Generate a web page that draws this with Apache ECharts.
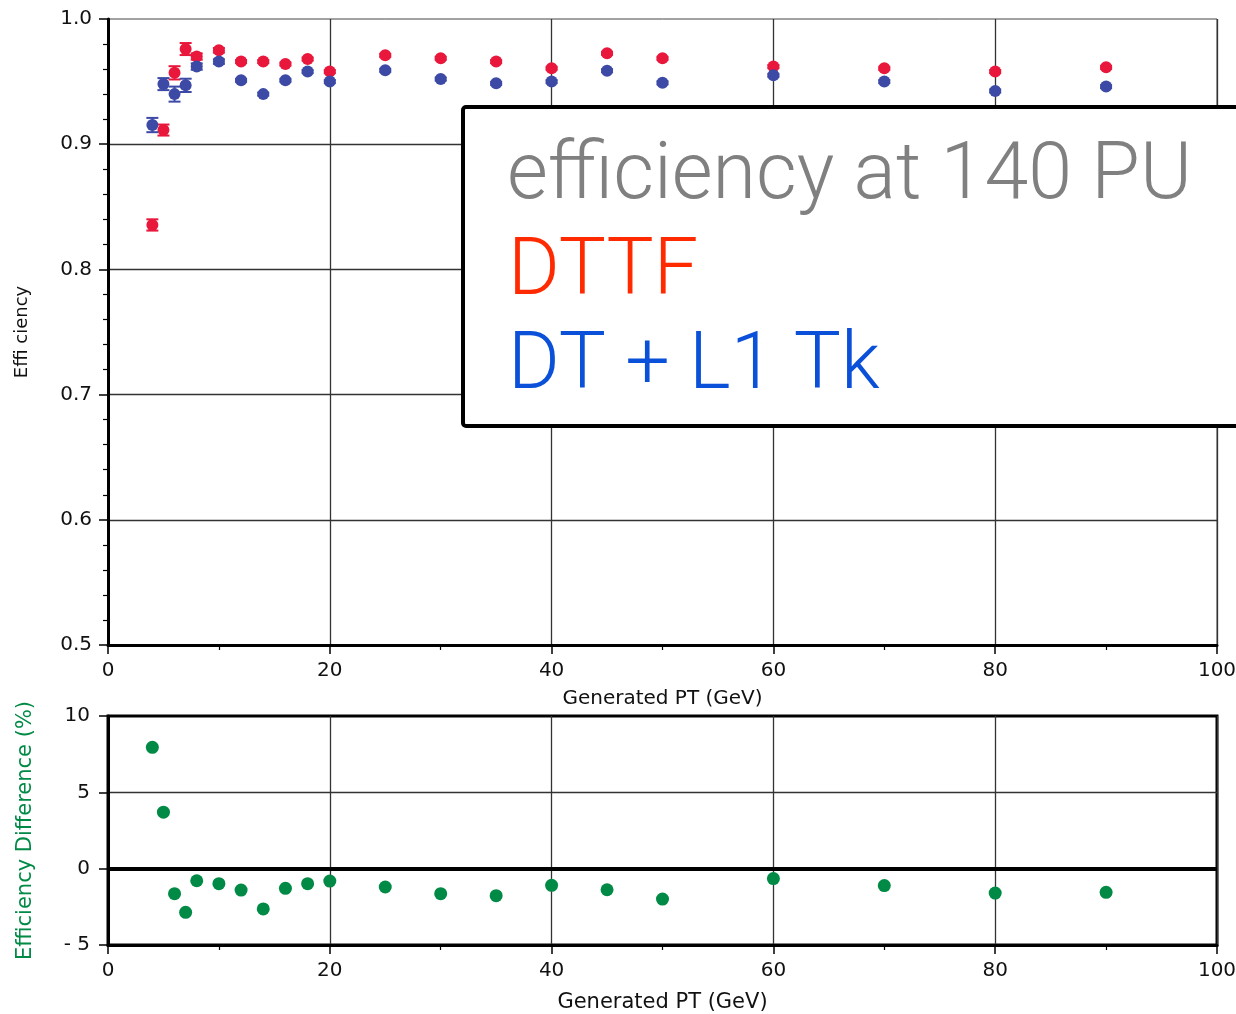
<!DOCTYPE html>
<html>
<head>
<meta charset="utf-8">
<script src="https://cdn.jsdelivr.net/npm/echarts@6/dist/echarts.min.js"></script>
<style>html,body{margin:0;padding:0;background:#fff;}#chart{width:1236px;height:1014px;}</style>
</head>
<body>
<div id="chart"></div>
<script>
// ---- data ----
const ptBins  = [4, 5, 6, 7, 8, 10, 12, 14, 16, 18, 20, 25, 30, 35, 40, 45, 50, 60, 70, 80, 90];
const dttfEff = [0.8355, 0.9113, 0.957, 0.976, 0.970, 0.975, 0.966, 0.966, 0.964, 0.968, 0.958, 0.971, 0.9686, 0.966, 0.9606, 0.9726, 0.9686, 0.962, 0.9606, 0.958, 0.9614];
const dttfErr = [0.0045, 0.0044, 0.0053, 0.0048, 0.0025, 0.0018, 0.0012, 0.0012, 0.0012, 0.0012, 0.0012, 0.0012, 0.0012, 0.0012, 0.0012, 0.0012, 0.0012, 0.0012, 0.0012, 0.0012, 0.0012];
const dtTkEff = [0.9153, 0.948, 0.940, 0.947, 0.962, 0.966, 0.951, 0.940, 0.951, 0.958, 0.950, 0.959, 0.952, 0.9486, 0.950, 0.9587, 0.949, 0.955, 0.950, 0.9425, 0.946];
const dtTkErr = [0.0057, 0.0048, 0.006, 0.0053, 0.0025, 0.0018, 0.0012, 0.0012, 0.0012, 0.0012, 0.0012, 0.0012, 0.0012, 0.0012, 0.0012, 0.0012, 0.0012, 0.0012, 0.0012, 0.0012, 0.0012];
const diffPct = [7.95, 3.7, -1.64, -2.86, -0.79, -0.98, -1.4, -2.64, -1.29, -0.98, -0.81, -1.2, -1.64, -1.77, -1.09, -1.38, -1.99, -0.65, -1.11, -1.6, -1.55];
const xTicks = [0, 20, 40, 60, 80, 100];
const effTicks = [0.5, 0.6, 0.7, 0.8, 0.9, 1.0];
const diffTicks = [-5, 0, 5, 10];
const legendLines = ['efficiency at 140 PU', 'DTTF', 'DT + L1 Tk'];

const RED = '#e8173b', BLUE = '#3c4aa6', GREEN = '#008a45';
const FONT = 'DejaVu Sans';

function pts(ys) { return ptBins.map((x, i) => [x, ys[i]]); }
function errPts(ys, es) { return ptBins.map((x, i) => [x, ys[i], es[i]]); }

function errRender(color) {
  return function (params, api) {
    const x = api.value(0), y = api.value(1), e = api.value(2);
    const lo = api.coord([x, y - e]);
    const hi = api.coord([x, y + e]);
    const hw = 6;
    const st = { stroke: color, lineWidth: 2 };
    return {
      type: 'group',
      children: [
        { type: 'line', shape: { x1: lo[0], y1: lo[1], x2: hi[0], y2: hi[1] }, style: st },
        { type: 'line', shape: { x1: lo[0] - hw, y1: lo[1], x2: lo[0] + hw, y2: lo[1] }, style: st },
        { type: 'line', shape: { x1: hi[0] - hw, y1: hi[1], x2: hi[0] + hw, y2: hi[1] }, style: st }
      ]
    };
  };
}

function xAxisCfg(grid, nameGap, nameSize) {
  return {
    gridIndex: grid, type: 'value', min: xTicks[0], max: xTicks[xTicks.length - 1],
    interval: xTicks[1] - xTicks[0],
    axisLine: { show: true, onZero: false, lineStyle: { color: '#000', width: 3 } },
    axisTick: { show: true, inside: false, length: 9, lineStyle: { color: '#000', width: 1.5 } },
    minorTick: { show: true, splitNumber: 2, length: 5, lineStyle: { color: '#000', width: 1.2 } },
    splitLine: { show: true, showMinLine: false, showMaxLine: true, lineStyle: { color: '#333', width: 1.3 } },
    axisLabel: { fontFamily: FONT, fontSize: 20, color: '#111', margin: 16 },
    name: 'Generated PT (GeV)', nameLocation: 'middle', nameGap: nameGap,
    nameTextStyle: { fontFamily: FONT, fontSize: nameSize, color: '#111' }
  };
}

const option = {
  animation: false,
  backgroundColor: '#fff',
  grid: [
    { left: 108, top: 19, right: 19, height: 626, show: true, borderColor: '#444', borderWidth: 1, backgroundColor: 'transparent', containLabel: false, outerBoundsMode: 'none' },
    { left: 108, top: 716, right: 19, height: 229, show: true, borderColor: '#000', borderWidth: 3, backgroundColor: 'transparent', containLabel: false, outerBoundsMode: 'none' }
  ],
  xAxis: [xAxisCfg(0, 44, 20), xAxisCfg(1, 47, 21)],
  yAxis: [
    {
      gridIndex: 0, type: 'value', min: effTicks[0], max: effTicks[effTicks.length - 1], interval: 0.1,
      axisLine: { show: true, onZero: false, lineStyle: { color: '#000', width: 3 } },
      axisTick: { show: true, inside: false, length: 9, lineStyle: { color: '#000', width: 1.5 } },
      minorTick: { show: true, splitNumber: 5, length: 5, lineStyle: { color: '#000', width: 1.2 } },
      splitLine: { show: true, showMinLine: false, showMaxLine: false, lineStyle: { color: '#333', width: 1.3 } },
      axisLabel: { fontFamily: FONT, fontSize: 20, color: '#111', margin: 16, formatter: v => v.toFixed(1) },
      name: 'Effi ciency', nameLocation: 'middle', nameGap: 77,
      nameTextStyle: { fontFamily: FONT, fontSize: 18, color: '#111' }
    },
    {
      gridIndex: 1, type: 'value', min: diffTicks[0], max: diffTicks[diffTicks.length - 1], interval: 5,
      axisLine: { show: true, onZero: false, lineStyle: { color: '#000', width: 3 } },
      axisTick: { show: true, inside: false, length: 9, lineStyle: { color: '#000', width: 1.5 } },
      splitLine: { show: true, showMinLine: false, showMaxLine: false, lineStyle: { color: '#333', width: 1.3 } },
      axisLabel: { fontFamily: FONT, fontSize: 20, color: '#111', margin: 18, formatter: v => v < 0 ? '- ' + Math.abs(v) : String(v) },
      name: 'Efficiency Difference (%)', nameLocation: 'middle', nameGap: 72,
      nameTextStyle: { fontFamily: FONT, fontSize: 21, color: GREEN }
    }
  ],
  series: [
    { type: 'custom', xAxisIndex: 0, yAxisIndex: 0, data: errPts(dttfEff, dttfErr), renderItem: errRender(RED), z: 3, silent: true },
    { type: 'scatter', name: 'DTTF', xAxisIndex: 0, yAxisIndex: 0, data: pts(dttfEff), symbol: 'circle', symbolSize: 12, itemStyle: { color: RED, opacity: 1 }, z: 4, silent: true },
    { type: 'custom', xAxisIndex: 0, yAxisIndex: 0, data: errPts(dtTkEff, dtTkErr), renderItem: errRender(BLUE), z: 5, silent: true },
    { type: 'scatter', name: 'DT + L1 Tk', xAxisIndex: 0, yAxisIndex: 0, data: pts(dtTkEff), symbol: 'circle', symbolSize: 12, itemStyle: { color: BLUE, opacity: 1 }, z: 6, silent: true },
    {
      type: 'scatter', name: 'diff', xAxisIndex: 1, yAxisIndex: 1, data: pts(diffPct), symbol: 'circle', symbolSize: 13,
      itemStyle: { color: GREEN, opacity: 1 }, z: 6, silent: true,
      markLine: { silent: true, symbol: 'none', label: { show: false }, lineStyle: { color: '#000', width: 4, type: 'solid' }, data: [{ yAxis: 0 }], z: 5 }
    }
  ],
  graphic: [
    { type: 'rect', z: 100, shape: { x: 463, y: 107, width: 800, height: 319, r: 3 }, style: { fill: '#fff', stroke: '#000', lineWidth: 4 } },
    { type: 'text', z: 101, style: { x: 507, y: 178, text: legendLines[0], fill: '#808080', font: '300 79px Roboto', textVerticalAlign: 'middle' } },
    { type: 'text', z: 101, style: { x: 508, y: 274, text: legendLines[1], fill: '#ff2a00', font: '300 79px Roboto', textVerticalAlign: 'middle' } },
    { type: 'text', z: 101, style: { x: 508, y: 368, text: legendLines[2], fill: '#0a50d8', font: '300 79px Roboto', textVerticalAlign: 'middle' } }
  ]
};

const chart = echarts.init(document.getElementById('chart'), null, { renderer: 'canvas' });
chart.setOption(option);
</script>
</body>
</html>
